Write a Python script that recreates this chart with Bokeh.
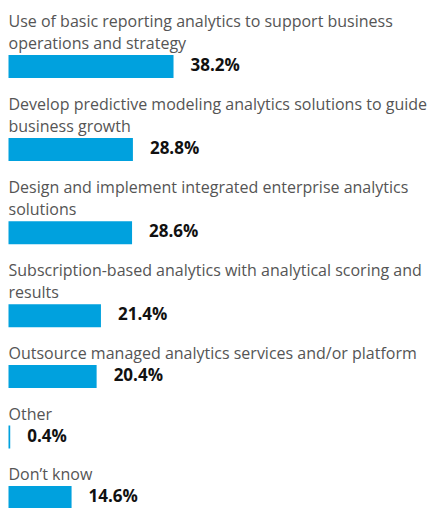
from bokeh.plotting import figure
from bokeh.models import Range1d, ColumnDataSource
from bokeh.core.properties import value
from bokeh.embed import file_html
from bokeh.resources import INLINE

categories = [
    "Use of basic reporting analytics to support business\noperations and strategy",
    "Develop predictive modeling analytics solutions to guide\nbusiness growth",
    "Design and implement integrated enterprise analytics\nsolutions",
    "Subscription-based analytics with analytical scoring and\nresults",
    "Outsource managed analytics services and/or platform",
    "Other",
    "Don\u2019t know",
]
values = [38.2, 28.8, 28.6, 21.4, 20.4, 0.4, 14.6]
value_labels = ["38.2%", "28.8%", "28.6%", "21.4%", "20.4%", "0.4%", "14.6%"]

# layout (page pixels)
W, H = 434, 508
LEFT = 8
PX_PER_PCT = 4.32
FIRST_BASELINE = 25
LINE_STEP = 22.5
BAR_GAP = 7
BAR_H = 23
NEXT_GAP = 30.6

line_x, line_y, line_t = [], [], []
bar_y = []
y = FIRST_BASELINE
for cat in categories:
    lines = cat.split("\n")
    for i, ln in enumerate(lines):
        line_x.append(0)
        line_y.append(y)
        line_t.append(ln)
        if i < len(lines) - 1:
            y += LINE_STEP
    bar_top = y + BAR_GAP
    bar_y.append(bar_top + BAR_H / 2)
    y = bar_top + BAR_H + NEXT_GAP

p = figure(width=W, height=H, output_backend="svg", toolbar_location=None,
           x_range=Range1d(-LEFT / PX_PER_PCT, (W - LEFT) / PX_PER_PCT),
           y_range=Range1d(H, 0))
p.min_border = 0
p.min_border_left = p.min_border_right = p.min_border_top = p.min_border_bottom = 0
p.axis.visible = False
p.grid.visible = False
p.outline_line_color = None
p.background_fill_color = "white"
p.border_fill_color = "white"

bars = ColumnDataSource(dict(y=bar_y, v=values, lab=value_labels))
p.hbar(y="y", left=0, right="v", height=BAR_H, source=bars,
       fill_color="#00A1DE", line_color=None)
p.text(x="v", y="y", text="lab", source=bars, x_offset=17, y_offset=-2,
       text_font=value("Open Sans"), text_font_style="bold",
       text_font_size="17px", text_color="#111111",
       text_baseline="middle", text_align="left")

cats = ColumnDataSource(dict(x=line_x, y=line_y, t=line_t))
p.text(x="x", y="y", text="t", source=cats, y_offset=-5,
       text_font=value("Open Sans"), text_font_size="16px",
       text_color="#555555", text_baseline="alphabetic", text_align="left")

open("out.html", "w").write(file_html(p, INLINE))
